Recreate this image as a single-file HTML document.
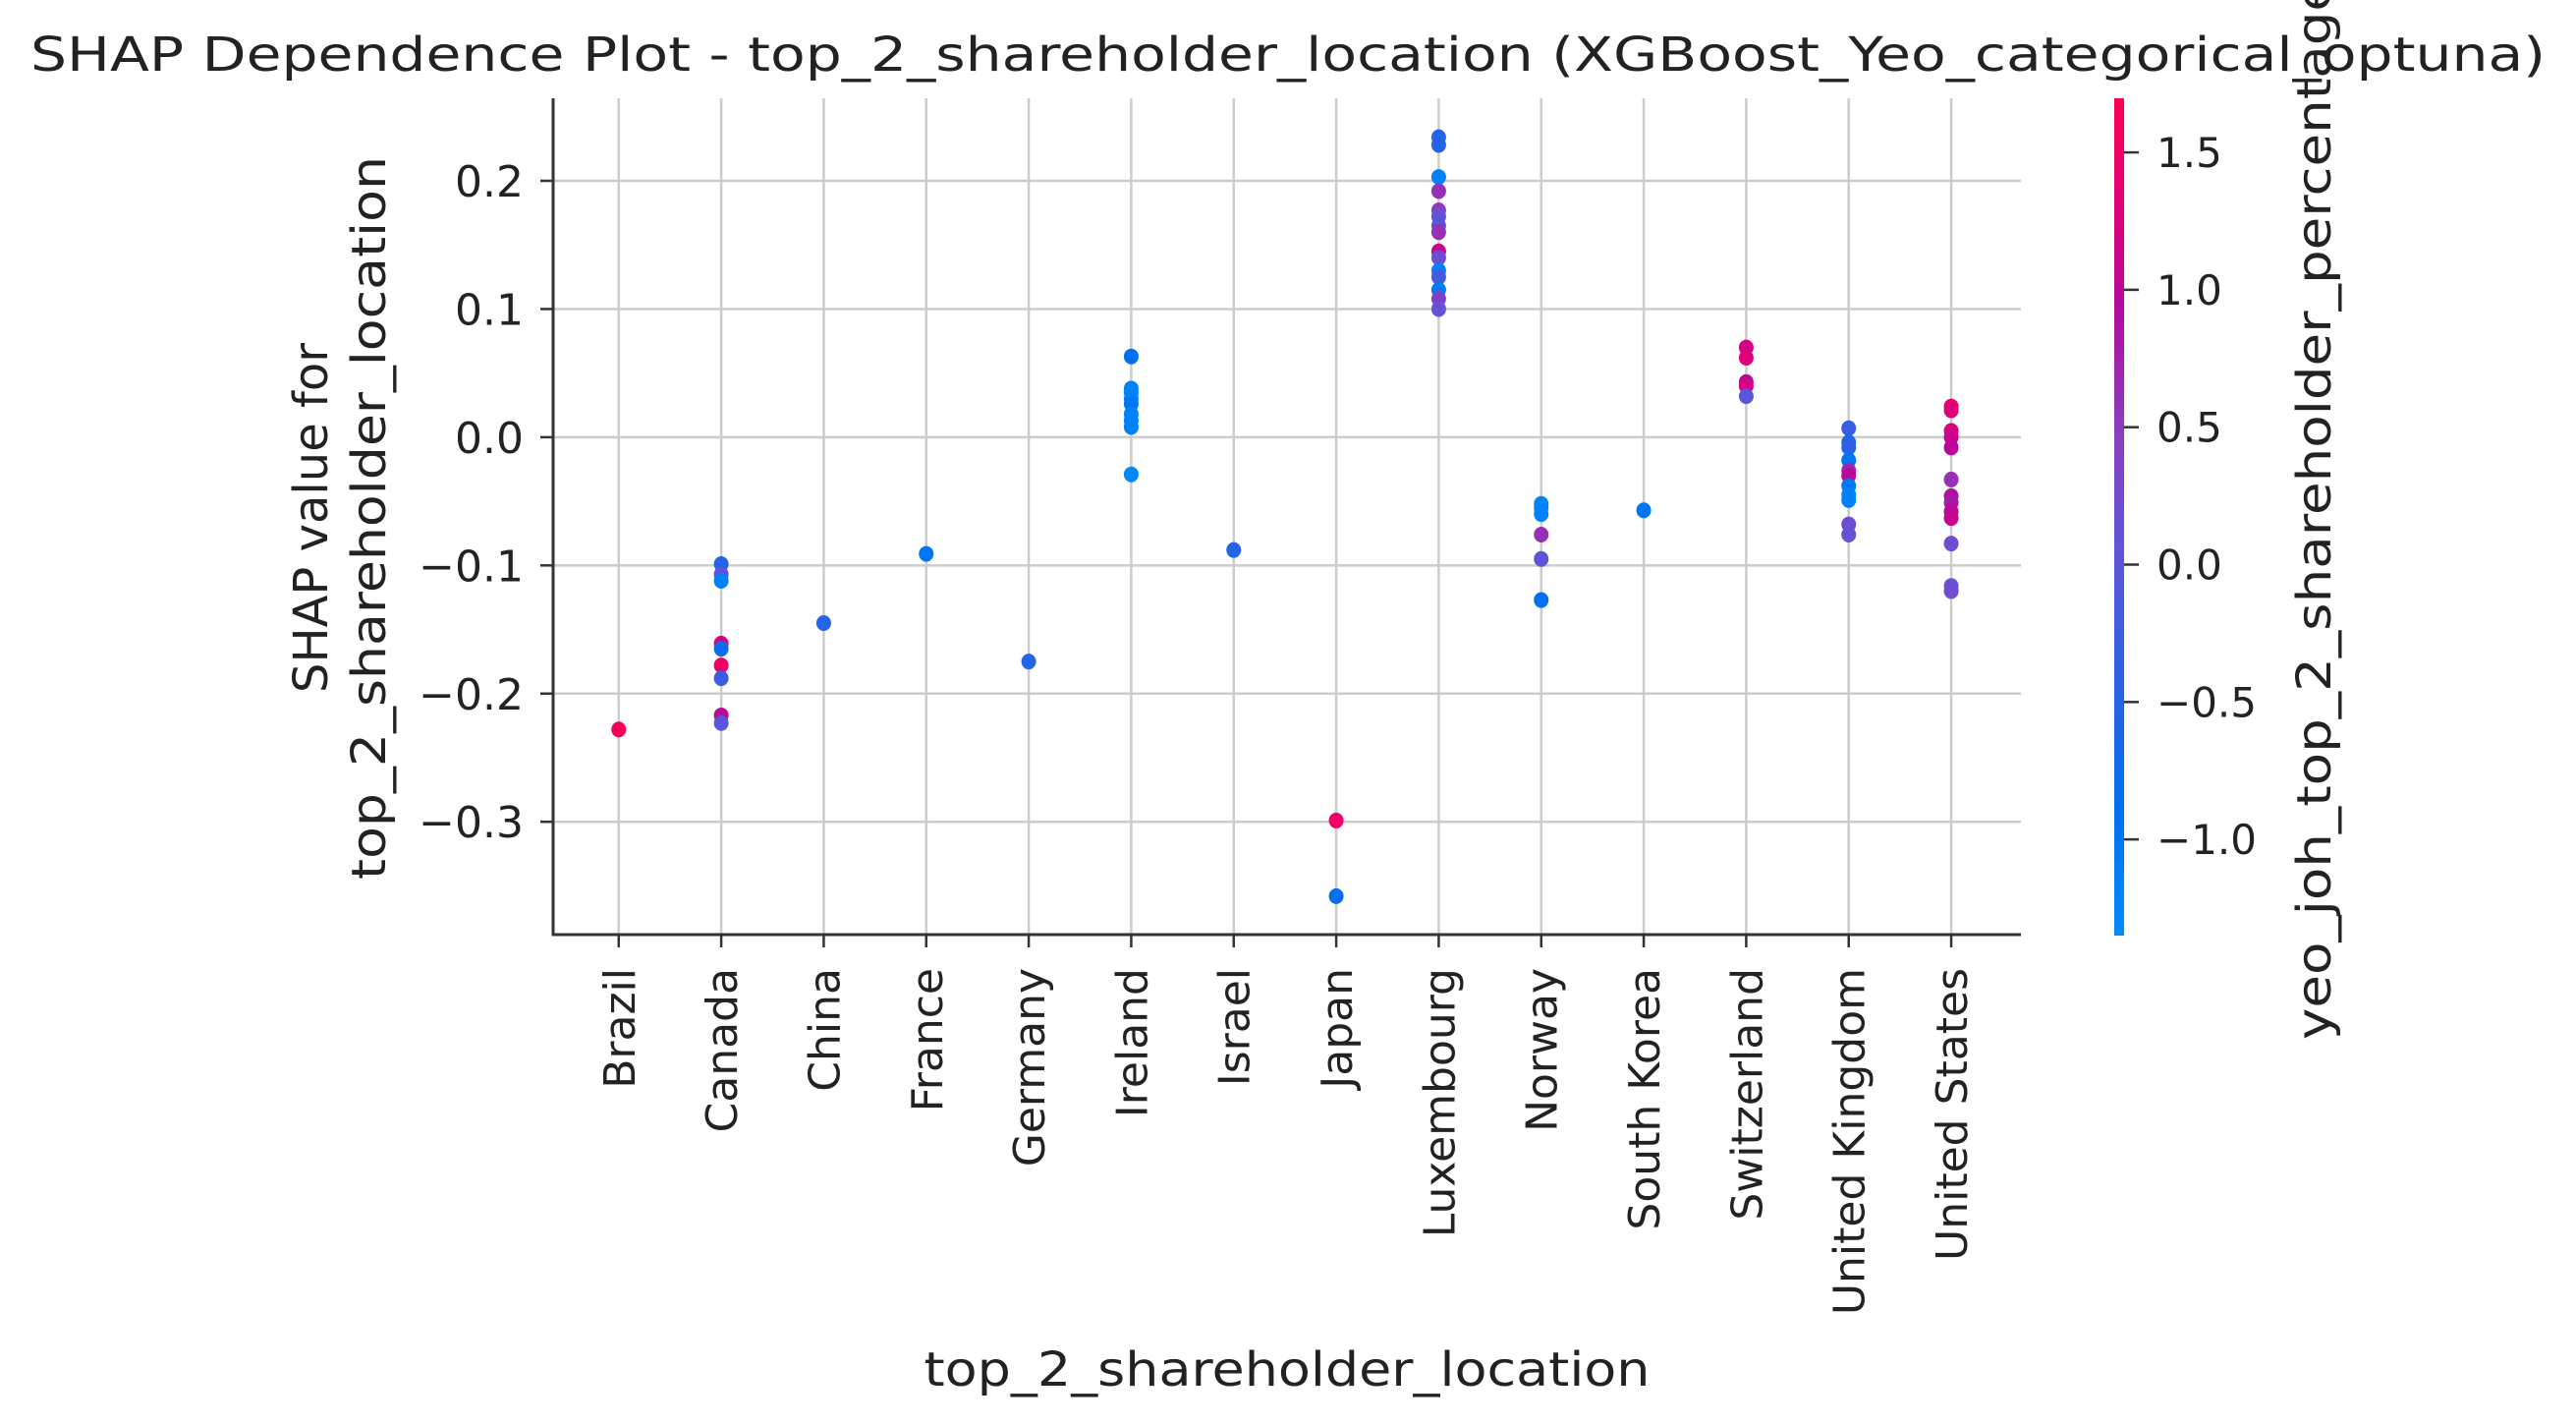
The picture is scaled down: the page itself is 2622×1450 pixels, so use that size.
<!DOCTYPE html>
<html><head><meta charset="utf-8"><style>
html,body{margin:0;padding:0;background:#fff;}
svg{display:block;font-family:"DejaVu Sans","Liberation Sans",sans-serif;}
</style></head><body>
<svg id="chart" width="2622" height="1450" viewBox="0 0 2622 1450" xmlns="http://www.w3.org/2000/svg">
<defs>
<linearGradient id="cmap" x1="0" y1="1" x2="0" y2="0">
<stop offset="0" stop-color="#008bfb"/>
<stop offset="0.15" stop-color="#0070f0"/>
<stop offset="0.3" stop-color="#2a62e4"/>
<stop offset="0.46" stop-color="#6054d8"/>
<stop offset="0.6" stop-color="#8a3ec0"/>
<stop offset="0.75" stop-color="#b30aa0"/>
<stop offset="0.87" stop-color="#e0007a"/>
<stop offset="1" stop-color="#ff0052"/>
</linearGradient>
</defs>
<g id="grid"></g>
<g id="points"></g>
<g id="axes"></g>
<text x="1311" y="72" font-size="48" text-anchor="middle" fill="#222" textLength="2560" lengthAdjust="spacingAndGlyphs">SHAP Dependence Plot - top_2_shareholder_location (XGBoost_Yeo_categorical_optuna)</text>
<text x="1310" y="1410" font-size="48" text-anchor="middle" fill="#222" textLength="739" lengthAdjust="spacingAndGlyphs">top_2_shareholder_location</text>
<g transform="translate(0,527) rotate(-90)">
<text x="0" y="333" font-size="48" text-anchor="middle" fill="#222">SHAP value for</text>
<text x="0" y="392" font-size="48" text-anchor="middle" fill="#222" textLength="736" lengthAdjust="spacingAndGlyphs">top_2_shareholder_location</text>
</g>
<rect x="2152" y="100" width="10" height="852" fill="url(#cmap)"/>
<g id="cbticks"></g>
<text transform="translate(2372,1058) rotate(-90)" font-size="48" fill="#222" textLength="1080" lengthAdjust="spacingAndGlyphs">yeo_joh_top_2_shareholder_percentage</text>
</svg>
<script>
const categories = ["Brazil","Canada","China","France","Germany","Ireland","Israel","Japan","Luxembourg","Norway","South Korea","Switzerland","United Kingdom","United States"];
const pointCat = [0,1,1,1,1,1,1,1,1,1,2,3,4,5,5,5,5,5,5,5,5,5,6,7,7,8,8,8,8,8,8,8,8,8,8,8,8,8,8,8,9,9,9,9,9,9,10,11,11,11,11,11,12,12,12,12,12,12,12,12,12,12,12,13,13,13,13,13,13,13,13,13,13,13,13,13];
const shapValues = [-0.228,-0.099,-0.107,-0.112,-0.161,-0.165,-0.178,-0.188,-0.217,-0.223,-0.145,-0.091,-0.175,0.063,0.038,0.035,0.030,0.026,0.018,0.013,0.008,-0.029,-0.088,-0.299,-0.358,0.234,0.228,0.203,0.192,0.177,0.172,0.165,0.160,0.145,0.140,0.130,0.125,0.115,0.108,0.100,-0.052,-0.055,-0.060,-0.076,-0.095,-0.127,-0.057,0.070,0.062,0.043,0.040,0.032,0.007,-0.004,-0.008,-0.018,-0.026,-0.030,-0.038,-0.045,-0.049,-0.068,-0.076,0.024,0.021,0.005,0.000,-0.008,-0.033,-0.046,-0.051,-0.058,-0.063,-0.083,-0.116,-0.120];
const colorValues = [1.6,-0.5,0.0,-1.2,1.3,-0.8,1.5,-0.3,1.0,0.0,-0.5,-1.0,-0.5,-0.9,-1.2,-1.2,-1.2,-1.0,-1.2,-1.2,-1.2,-1.3,-0.5,1.5,-0.8,-0.5,-0.5,-1.2,0.6,0.5,0.1,0.0,0.6,1.1,0.2,-1.2,-0.2,-1.1,0.4,0.1,-1.2,-1.2,-1.2,0.6,0.0,-0.9,-1.0,1.2,1.3,1.0,1.2,0.0,-0.3,-0.5,-0.4,-1.0,0.7,1.0,-1.0,-1.2,-1.2,0.2,0.1,1.5,1.3,1.3,1.1,1.0,0.6,0.9,0.8,1.0,1.1,0.2,0.1,0.2];
const yTicks = [0.2,0.1,0.0,-0.1,-0.2,-0.3];
const cbTicks = [1.5,1.0,0.5,0.0,-0.5,-1.0];

const NS="http://www.w3.org/2000/svg";
const L=563,R=2057,T=100,B=951;
const xmin=-0.64,xmax=13.68,ymin=-0.388,ymax=0.2644,cmin=-1.35,cmax=1.697;
const xS=v=>L+(v-xmin)/(xmax-xmin)*(R-L);
const yS=v=>B-(v-ymin)/(ymax-ymin)*(B-T);
const cS=v=>952-(v-cmin)/(cmax-cmin)*852;
const stops=[[0,[0,139,251]],[0.15,[0,112,240]],[0.3,[42,98,228]],[0.46,[96,84,216]],[0.6,[138,62,192]],[0.75,[179,10,160]],[0.87,[224,0,122]],[1,[255,0,82]]];
function cmap(v){let t=Math.max(0,Math.min(1,(v-cmin)/(cmax-cmin)));for(let i=1;i<stops.length;i++){if(t<=stops[i][0]){const a=stops[i-1],b=stops[i];const f=(t-a[0])/(b[0]-a[0]);return 'rgb('+a[1].map((c,k)=>Math.round(c+(b[1][k]-c)*f)).join(',')+')';}}return 'rgb(255,0,82)';}
function mk(tag,attrs,parent){const e=document.createElementNS(NS,tag);for(const k in attrs)e.setAttribute(k,attrs[k]);parent.appendChild(e);return e;}
const fmt=v=>(v<0?'\u2212':'')+Math.abs(v).toFixed(1);
const grid=document.getElementById('grid'),axes=document.getElementById('axes'),pts=document.getElementById('points'),cbt=document.getElementById('cbticks');
categories.forEach((c,i)=>{
  const x=xS(i);
  const g=mk('line',{x1:x,x2:x,y1:T,y2:B,stroke:'#cccccc','stroke-width':2.5},grid);
  
  
  const tk=mk('line',{x1:x,x2:x,y1:B,y2:B+13,stroke:'#333','stroke-width':2.5},axes);
  
  
  const t=mk('text',{transform:'translate('+(x+16)+','+(B+34)+') rotate(-90)','font-size':44,'text-anchor':'end',fill:'#222'},axes);
  t.textContent=c;
  
  
});
yTicks.forEach(v=>{
  const y=yS(v);
  const g=mk('line',{x1:L,x2:R,y1:y,y2:y,stroke:'#cccccc','stroke-width':2.5},grid);
  
  
  const tk=mk('line',{x1:L-13,x2:L,y1:y,y2:y,stroke:'#333','stroke-width':2.5},axes);
  
  
  const t=mk('text',{x:L-30,y:y+16,'font-size':44,'text-anchor':'end',fill:'#222'},axes);
  t.textContent=fmt(v);
  
  
});
const sl=mk('line',{x1:L,x2:L,y1:T,y2:B+1.5,stroke:'#333','stroke-width':3},axes);


const sb=mk('line',{x1:L-1.5,x2:R,y1:B,y2:B,stroke:'#333','stroke-width':3},axes);


shapValues.forEach((v,i)=>{
  const p=mk('ellipse',{cx:xS(pointCat[i]),cy:yS(v),rx:7.5,ry:8,fill:cmap(colorValues[i])},pts);
  
  
});
cbTicks.forEach(v=>{
  const y=cS(v);
  const tk=mk('line',{x1:2162,x2:2177,y1:y,y2:y,stroke:'#333','stroke-width':2.5},cbt);
  
  
  const t=mk('text',{x:2195,y:y+15,'font-size':42,fill:'#222'},cbt);
  t.textContent=fmt(v);
  
  
});
</script>
</body></html>
